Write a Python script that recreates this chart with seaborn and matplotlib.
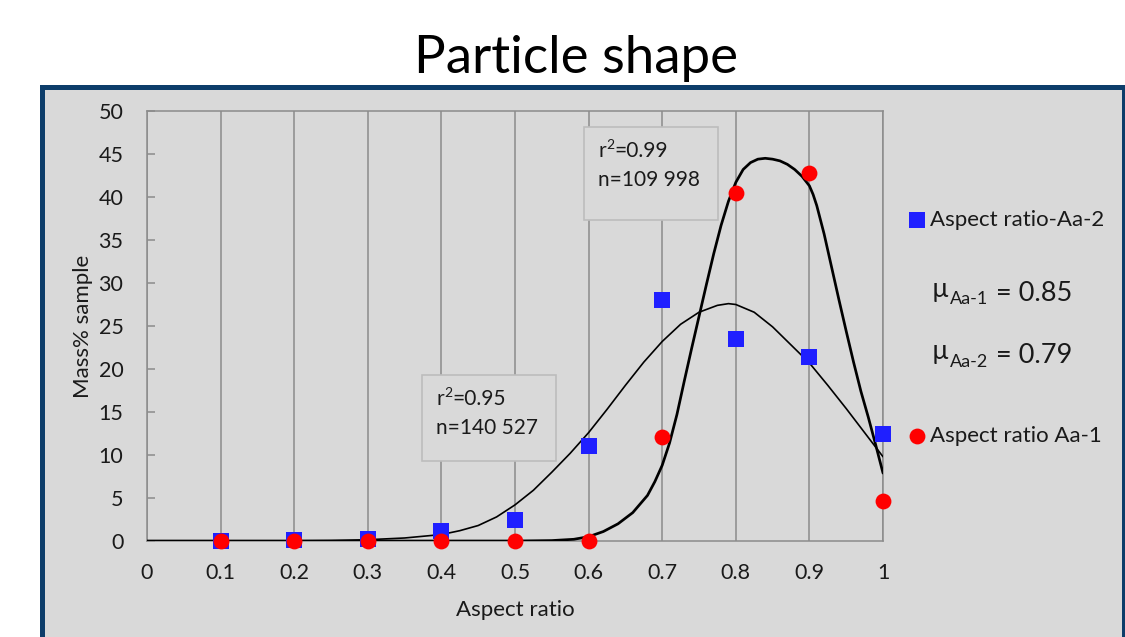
import matplotlib
matplotlib.use("Agg")
import matplotlib.pyplot as plt
from matplotlib.patches import Rectangle
import seaborn as sns

# ---------------- data ----------------
aspect_ratio = [0.1, 0.2, 0.3, 0.4, 0.5, 0.6, 0.7, 0.8, 0.9, 1.0]
mass_aa2 = [0.0, 0.1, 0.2, 1.2, 2.5, 11.0, 28.0, 23.5, 21.4, 12.4]
mass_aa1 = [0.0, 0.0, 0.0, 0.0, 0.0, 0.0, 12.1, 40.5, 42.8, 4.6]

# fitted curves
fit_aa2_x = [0.0, 0.1, 0.2, 0.25, 0.3, 0.35, 0.4, 0.425, 0.45, 0.475, 0.5, 0.525,
             0.55, 0.575, 0.6, 0.625, 0.65, 0.675, 0.7, 0.725, 0.75, 0.775,
             0.79, 0.8, 0.825, 0.85, 0.875, 0.9, 0.925, 0.95, 0.975, 1.0]
fit_aa2_y = [0.0, 0.0, 0.02, 0.05, 0.15, 0.35, 0.75, 1.2, 1.8, 2.8, 4.2, 5.9,
             8.0, 10.2, 12.6, 15.3, 18.1, 20.8, 23.2, 25.2, 26.6, 27.4,
             27.6, 27.5, 26.6, 24.9, 22.8, 20.7, 18.1, 15.4, 12.6, 9.8]
fit_aa1_x = [0.0, 0.1, 0.2, 0.3, 0.4, 0.5, 0.55, 0.58, 0.6, 0.62, 0.64, 0.66,
             0.68, 0.69, 0.7, 0.71, 0.72, 0.73, 0.74, 0.75, 0.76, 0.77, 0.78,
             0.79, 0.8, 0.81, 0.82, 0.83, 0.84, 0.85, 0.86, 0.87, 0.88, 0.89,
             0.9, 0.905, 0.91, 0.92, 0.93, 0.94, 0.95, 0.96, 0.97, 0.98, 0.99, 1.0]
fit_aa1_y = [0.0, 0.0, 0.0, 0.0, 0.0, 0.0, 0.05, 0.2, 0.5, 1.1, 2.0, 3.3,
             5.3, 6.9, 8.8, 11.4, 14.7, 18.6, 22.4, 26.1, 29.8, 33.4, 36.7,
             39.5, 41.7, 43.2, 44.0, 44.4, 44.5, 44.4, 44.2, 43.8, 43.2, 42.4,
             41.3, 40.3, 39.0, 35.7, 31.9, 28.1, 24.4, 20.8, 17.4, 14.4, 11.2, 7.9]

x_ticks = [0, 0.1, 0.2, 0.3, 0.4, 0.5, 0.6, 0.7, 0.8, 0.9, 1.0]
x_tick_labels = ["0", "0.1", "0.2", "0.3", "0.4", "0.5", "0.6", "0.7", "0.8", "0.9", "1"]
y_ticks = [0, 5, 10, 15, 20, 25, 30, 35, 40, 45, 50]

title = "Particle shape"
x_label = "Aspect ratio"
y_label = "Mass% sample"
label_aa2 = "Aspect ratio-Aa-2"
label_aa1 = "Aspect ratio Aa-1"
fit_box_aa1 = ("0.99", "n=109 998")
fit_box_aa2 = ("0.95", "n=140 527")
mu_lines = [("Aa-1", "0.85"), ("Aa-2", "0.79")]

# ---------------- style ----------------
sns.set_theme(style="white")
plt.rcParams["font.family"] = ["Lato", "DejaVu Sans"]
plt.rcParams["text.color"] = "#1a1a1a"

W, H = 1125, 637
fig = plt.figure(figsize=(W / 100, H / 100), dpi=100)
fig.patch.set_facecolor("white")


def fx(x):
    return x / W


def fy(y):
    return 1 - y / H


GRID = "#8c8c8c"
PANEL = "#d9d9d9"
TXT = "#1a1a1a"

# panel with dark-blue border
fig.add_artist(Rectangle((fx(42), fy(700)), fx(1123.5) - fx(42), fy(87) - fy(700),
                         transform=fig.transFigure, facecolor=PANEL,
                         edgecolor="#0d3d6a", linewidth=3.6, zorder=0))

fig.text(fx(576), fy(58), title, ha="center", va="center", fontsize=38,
         color="black")

ax = fig.add_axes([fx(147), fy(541), fx(883) - fx(147), fy(111) - fy(541)])
ax.set_facecolor(PANEL)
ax.patch.set_alpha(0)

# fitted curves
sns.lineplot(x=fit_aa2_x, y=fit_aa2_y, ax=ax, color="black", linewidth=1.2,
             sort=False, estimator=None, zorder=3)
sns.lineplot(x=fit_aa1_x, y=fit_aa1_y, ax=ax, color="black", linewidth=1.95,
             sort=False, estimator=None, zorder=3)

# data points
sns.scatterplot(x=aspect_ratio, y=mass_aa2, ax=ax, marker="s", s=120,
                color="#1f1fff", linewidth=0, label=label_aa2, zorder=4,
                clip_on=False)
sns.scatterplot(x=aspect_ratio, y=mass_aa1, ax=ax, marker="o", s=130,
                color="#ff0000", linewidth=0, label=label_aa1, zorder=5,
                clip_on=False)

ax.set_xlim(0, 1)
ax.set_ylim(0, 50)
ax.set_xticks(x_ticks)
ax.set_xticklabels(x_tick_labels)
ax.set_yticks(y_ticks)
ax.xaxis.grid(True, color=GRID, linewidth=1.1, zorder=0)
ax.yaxis.grid(False)
ax.set_axisbelow(True)
for side in ["left", "right", "top", "bottom"]:
    ax.spines[side].set_visible(True)
    ax.spines[side].set_color(GRID)
    ax.spines[side].set_linewidth(1.1)
ax.tick_params(axis="y", direction="in", length=6, width=1.1, color=GRID,
               labelsize=15.5, pad=17, left=True)
ax.tick_params(axis="x", length=0, labelsize=15.5, pad=16)
for lab in ax.get_xticklabels() + ax.get_yticklabels():
    lab.set_color(TXT)

ax.set_xlabel(x_label, fontsize=16, labelpad=12, color=TXT)
ax.set_ylabel(y_label, fontsize=16, labelpad=4, color=TXT)

# legend entries (two separate legends)
handles, labels = ax.get_legend_handles_labels()
if ax.get_legend():
    ax.get_legend().remove()
leg_kw = dict(frameon=False, fontsize=16, handlelength=0.9, handletextpad=0.12,
              borderpad=0, borderaxespad=0, loc="center left",
              bbox_transform=fig.transFigure, markerscale=1.0)
leg1 = ax.legend([handles[0]], [labels[0]], bbox_to_anchor=(fx(907), fy(220)), **leg_kw)
ax.add_artist(leg1)
leg2 = ax.legend([handles[1]], [labels[1]], bbox_to_anchor=(fx(907), fy(436)), **leg_kw)
for lg in (leg1, leg2):
    for t in lg.get_texts():
        t.set_color(TXT)

# mu texts
for (sub, val), base in zip(mu_lines, [300.7, 363.3]):
    fig.text(fx(932), fy(base - 4), "\u00b5", fontsize=19, va="baseline", ha="left")
    fig.text(fx(950), fy(base + 3.5), sub, fontsize=13, va="baseline", ha="left")
    fig.text(fx(996), fy(base), "= " + val, fontsize=19.5, va="baseline", ha="left")

# fit annotation boxes
for (x0, y0, x1, y1, tx, b1, b2, (r2, n_txt)) in [
        (584, 127, 718, 220, 598, 156.7, 186.5, fit_box_aa1),
        (422, 375, 556, 461, 436, 405.0, 434.5, fit_box_aa2)]:
    fig.add_artist(Rectangle((fx(x0), fy(y1)), fx(x1) - fx(x0), fy(y0) - fy(y1),
                             transform=fig.transFigure, facecolor=PANEL,
                             edgecolor="#bdbdbd", linewidth=1.2, zorder=2))
    fig.text(fx(tx), fy(b1), "r", fontsize=15, va="baseline", ha="left", zorder=3)
    fig.text(fx(tx + 8), fy(b1 - 8), "2", fontsize=10, va="baseline", ha="left", zorder=3)
    fig.text(fx(tx + 16.5), fy(b1), "=" + r2, fontsize=15, va="baseline", ha="left", zorder=3)
    fig.text(fx(tx), fy(b2), n_txt, fontsize=15, va="baseline", ha="left", zorder=3)

fig.savefig("out.png", dpi=100, facecolor="white")
